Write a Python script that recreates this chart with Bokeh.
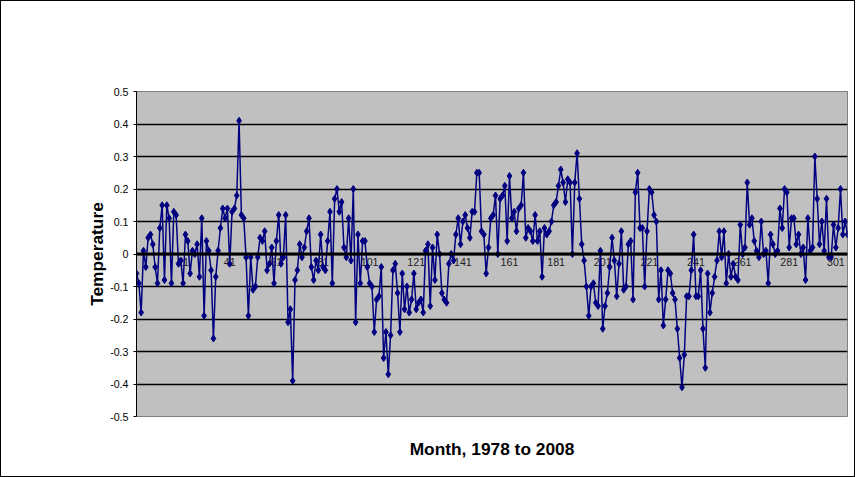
from bokeh.plotting import figure
from bokeh.models import Span, FixedTicker, ColumnDataSource
from bokeh.core.properties import value
from bokeh.embed import file_html
from bokeh.resources import INLINE

temps = [
    -0.06, -0.09, -0.18, 0.01, -0.04, 0.05, 0.06, 0.03, -0.04, -0.09, 0.08, 0.15, -0.08, 0.15, 0.11, -0.09, 0.13, 0.12, -0.03, -0.02,
    -0.09, 0.06, 0.04, -0.06, 0.01, 0.00, 0.03, -0.07, 0.11, -0.19, 0.04, 0.01, -0.05, -0.26, -0.07, 0.01, 0.08, 0.14, 0.11, 0.14,
    -0.03, 0.13, 0.14, 0.18, 0.41, 0.12, 0.11, -0.01, -0.19, -0.01, -0.11, -0.10, -0.01, 0.05, 0.04, 0.07, -0.05, -0.03, 0.02, -0.09,
    0.04, 0.12, -0.03, -0.01, 0.12, -0.21, -0.17, -0.39, -0.08, -0.05, 0.03, -0.01, 0.02, 0.07, 0.11, -0.04, -0.08, -0.02, -0.05, 0.06,
    -0.04, -0.05, 0.04, 0.13, -0.09, 0.17, 0.20, 0.13, 0.16, 0.02, -0.01, 0.11, -0.02, 0.20, -0.21, 0.06, -0.09, 0.04, 0.04, -0.04,
    -0.09, -0.10, -0.24, -0.14, -0.13, -0.04, -0.32, -0.24, -0.37, -0.25, -0.05, -0.03, -0.12, -0.24, -0.06, -0.17, -0.10, -0.18, -0.14, -0.06,
    -0.17, -0.15, -0.14, -0.18, 0.01, 0.03, -0.16, 0.02, -0.08, 0.06, 0.00, -0.12, -0.14, -0.15, -0.03, 0.00, -0.02, 0.06, 0.11, 0.03,
    0.10, 0.12, 0.08, 0.05, 0.13, 0.13, 0.25, 0.25, 0.07, 0.06, -0.06, 0.02, 0.11, 0.12, 0.18, 0.00, 0.17, 0.18, 0.21, 0.04,
    0.24, 0.11, 0.13, 0.07, 0.14, 0.15, 0.25, 0.05, 0.08, 0.07, 0.04, 0.12, 0.04, 0.07, -0.07, 0.08, 0.06, 0.07, 0.10, 0.15,
    0.16, 0.21, 0.26, 0.22, 0.16, 0.23, 0.22, 0.00, 0.22, 0.31, 0.17, 0.03, -0.02, -0.10, -0.19, -0.10, -0.09, -0.15, -0.16, 0.01,
    -0.23, -0.16, -0.12, -0.04, 0.05, -0.02, -0.13, -0.03, 0.07, -0.11, -0.10, 0.03, 0.04, -0.14, 0.19, 0.25, 0.08, 0.08, -0.10, 0.07,
    0.20, 0.19, 0.12, 0.10, -0.14, -0.05, -0.22, -0.14, -0.05, -0.06, -0.12, -0.14, -0.23, -0.32, -0.41, -0.31, -0.13, -0.13, -0.05, 0.06,
    -0.13, -0.13, -0.05, -0.23, -0.35, -0.06, -0.18, -0.12, -0.07, -0.02, 0.07, -0.01, 0.07, -0.09, 0.00, -0.07, -0.03, -0.07, -0.08, 0.09,
    0.00, 0.02, 0.22, 0.09, 0.11, 0.04, 0.01, -0.01, 0.10, 0.00, 0.01, -0.09, 0.06, 0.03, 0.00, 0.01, 0.14, 0.08, 0.20, 0.19,
    0.02, 0.11, 0.11, 0.03, 0.06, 0.00, 0.02, -0.08, 0.11, 0.01, 0.02, 0.30, 0.17, 0.03, 0.10, 0.01, 0.17, -0.01, -0.01, 0.09,
    0.02, 0.08, 0.20, 0.06, 0.10, 0.06,
]
months = list(range(1, len(temps) + 1))
x_ticks = [21, 41, 61, 81, 101, 121, 141, 161, 181, 201, 221, 241, 261, 281, 301]
y_ticks = [-0.5, -0.4, -0.3, -0.2, -0.1, 0.0, 0.1, 0.2, 0.3, 0.4, 0.5]
y_labels = ["-0.5", "-0.4", "-0.3", "-0.2", "-0.1", "0", "0.1", "0.2", "0.3", "0.4", "0.5"]

FONT = "Liberation Sans"

p = figure(width=855, height=477, output_backend="svg", toolbar_location=None,
           x_range=(1, len(temps)), y_range=(-0.5, 0.5),
           min_border_left=135, min_border_right=9, min_border_top=90, min_border_bottom=62,
           background_fill_color="#C0C0C0", border_fill_color="white",
           styles={"border": "1px solid black", "box-sizing": "border-box"})
p.outline_line_color = "#808080"
p.xgrid.visible = False
p.ygrid.ticker = FixedTicker(ticks=y_ticks)
p.ygrid.grid_line_color = "black"
p.ygrid.grid_line_width = 1.5

p.yaxis.ticker = FixedTicker(ticks=y_ticks)
p.yaxis.major_label_overrides = {t: l for t, l in zip(y_ticks, y_labels)}
p.yaxis.major_label_text_font = FONT
p.yaxis.major_label_text_font_size = "8pt"
p.yaxis.major_label_text_color = "black"
p.yaxis.minor_tick_line_color = None
p.yaxis.major_tick_out = 3
p.yaxis.major_tick_in = 0
p.yaxis.axis_line_color = "black"
p.yaxis.axis_label = "Temperature"
p.yaxis.axis_label_text_font = FONT
p.yaxis.axis_label_text_font_style = "bold"
p.yaxis.axis_label_text_font_size = "13pt"
p.yaxis.axis_label_text_color = "black"
p.yaxis.axis_label_standoff = 0

p.xaxis.ticker = FixedTicker(ticks=[])
p.xaxis.axis_line_color = None
p.xaxis.major_label_text_font_size = "0pt"
p.xaxis.axis_label = "Month, 1978 to 2008"
p.xaxis.axis_label_text_font = FONT
p.xaxis.axis_label_text_font_style = "bold"
p.xaxis.axis_label_text_font_size = "13pt"
p.xaxis.axis_label_text_color = "black"
p.xaxis.axis_label_standoff = 22

p.add_layout(Span(location=0, dimension="width", line_color="black", line_width=3))

lab = ColumnDataSource(dict(x=x_ticks, y=[-0.012] * len(x_ticks), t=[str(v) for v in x_ticks]))
p.text("x", "y", text="t", source=lab, text_font=value(FONT), text_font_size="8pt",
       text_align="center", text_baseline="top", text_color="#222222")

src = ColumnDataSource(dict(x=months, y=temps))
p.line("x", "y", source=src, line_color="#000080", line_width=1.5)
p.scatter("x", "y", source=src, marker="diamond", size=7, color="#000080")

open("out.html", "w").write(file_html(p, INLINE))
